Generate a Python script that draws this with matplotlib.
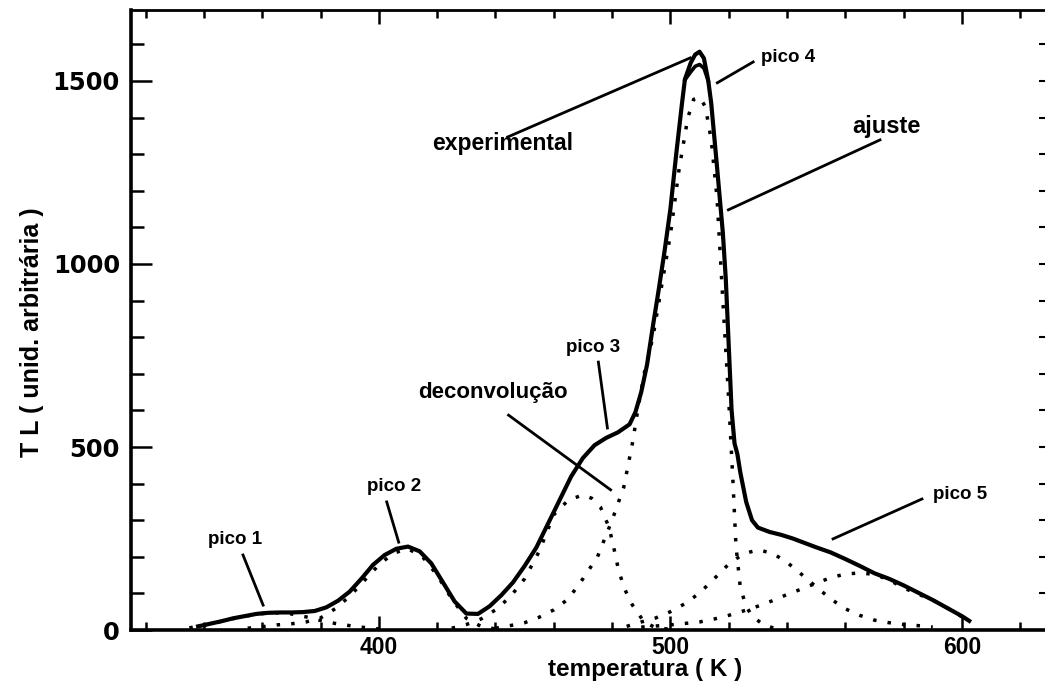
import matplotlib
matplotlib.use("Agg")
import matplotlib.pyplot as plt
from matplotlib.ticker import MultipleLocator

plt.rcParams['font.family'] = ['Liberation Sans', 'DejaVu Sans']
plt.rcParams['font.weight'] = 'bold'
plt.rcParams['axes.labelweight'] = 'bold'

# medida experimental de TL
exp_T = [338, 342, 346, 350, 354, 358, 362, 366, 370, 374, 378, 382, 386, 390,
         394, 398, 402, 406, 410, 414, 418, 422, 426, 430, 434, 438, 442, 446,
         450, 454, 458, 462, 466, 470, 474, 478, 482, 486, 488, 490, 492, 494,
         496, 498, 500, 502, 504, 505, 507, 508.5, 510, 511.5, 513, 514, 516,
         518, 519, 520, 521, 522, 523, 524, 526, 528, 530, 534, 538, 542, 546,
         550, 555, 560, 565, 570, 575, 580, 585, 590, 595, 600, 602.5]
exp_TL = [10, 17, 24, 32, 38, 44, 47, 48, 48, 49, 52, 62, 80, 105,
          140, 178, 205, 222, 228, 215, 182, 130, 78, 45, 44, 65, 95, 130,
          175, 225, 290, 355, 420, 470, 505, 525, 540, 562, 595, 650, 725, 830,
          930, 1035, 1150, 1300, 1440, 1505, 1550, 1572, 1580, 1562, 1500, 1440, 1265,
          1085, 960, 780, 600, 510, 480, 430, 350, 300, 280, 268, 260, 250, 238,
          226, 212, 194, 175, 155, 140, 122, 102, 82, 60, 38, 25]

# curva ajustada (separa-se da experimental apenas no topo do pico 4)
fit_T = [505, 507, 508.5, 510, 511.5, 513]
fit_TL = [1503, 1525, 1540, 1545, 1535, 1500]

# picos da deconvolução
p1_T = [335, 340, 345, 350, 355, 360, 365, 370, 375, 380, 385, 390, 395, 400]
p1_TL = [6, 13, 22, 31, 39, 45, 47, 44, 36, 26, 18, 12, 7, 3]

p2_T = [355, 360, 365, 370, 375, 380, 385, 390, 395, 400, 405, 410, 415, 420,
        425, 430, 435, 440]
p2_TL = [5, 9, 14, 17, 22, 33, 58, 92, 135, 178, 210, 222, 200, 150,
         85, 32, 10, 3]

p3_T = [425, 430, 435, 440, 445, 450, 455, 460, 465, 470, 473, 476, 479, 481,
        482, 484, 487, 491, 495, 500]
p3_TL = [5, 15, 30, 55, 90, 140, 215, 315, 355, 369, 360, 336, 280, 210,
         172, 117, 68, 22, 6, 2]

p4_T = [440, 445, 450, 455, 460, 465, 470, 475, 480, 484, 487, 489, 491, 494,
        497, 500, 503, 506, 508, 510, 512, 514, 516, 518, 520, 521.5, 522.5,
        524, 526, 528, 532, 536]
p4_TL = [5, 12, 20, 35, 55, 85, 140, 200, 300, 390, 511, 610, 700, 800,
         940, 1080, 1260, 1400, 1450, 1456, 1430, 1340, 1180, 900, 630, 400, 230,
         115, 65, 38, 14, 4]

p5_T = [485, 490, 495, 500, 505, 510, 515, 520, 525, 530, 535, 540, 545, 550,
        555, 560, 565, 570, 575, 580, 585, 590]
p5_TL = [10, 22, 33, 50, 72, 101, 140, 180, 208, 219, 210, 185, 152, 118,
         85, 58, 40, 27, 20, 15, 12, 8]

p6_T = [490, 495, 500, 505, 510, 515, 520, 525, 530, 535, 540, 545, 550, 555,
        560, 565, 570, 575, 580, 585, 590, 595, 600, 603]
p6_TL = [8, 11, 14, 18, 22, 30, 40, 52, 65, 80, 97, 112, 128, 143,
         153, 156, 152, 137, 115, 98, 82, 60, 36, 25]

fig = plt.figure(figsize=(10.45, 6.86), dpi=100)
ax = fig.add_axes([0.1254, 0.0816, 0.8746, 0.9044])

dots = dict(color='black', lw=2.5, linestyle=(0, (1, 3.2)), dash_capstyle='butt')
for T, TL in [(p1_T, p1_TL), (p2_T, p2_TL), (p3_T, p3_TL), (p4_T, p4_TL),
              (p5_T, p5_TL), (p6_T, p6_TL)]:
    ax.plot(T, TL, **dots)

ax.plot(exp_T, exp_TL, color='black', lw=3.0, solid_joinstyle='round')
ax.plot(fit_T, fit_TL, color='black', lw=2.6, solid_joinstyle='round')

ax.set_xlim(315, 628.5)
ax.set_ylim(0, 1695)

# eixos
ax.spines['right'].set_visible(False)
ax.spines['left'].set_linewidth(2.6)
ax.spines['bottom'].set_linewidth(2.6)
ax.spines['top'].set_linewidth(2.0)

ax.xaxis.set_major_locator(MultipleLocator(100))
ax.xaxis.set_minor_locator(MultipleLocator(20))
ax.yaxis.set_major_locator(MultipleLocator(500))
ax.yaxis.set_minor_locator(MultipleLocator(100))
ax.tick_params(axis='x', which='both', direction='in', top=True, width=1.8)
ax.tick_params(axis='x', which='major', length=10, pad=4, labelsize=16.5)
ax.tick_params(axis='x', which='minor', length=6)
ax.tick_params(axis='y', which='both', direction='in', width=1.8)
ax.tick_params(axis='y', which='major', length=15, pad=8, labelsize=17.5)
ax.tick_params(axis='y', which='minor', length=9)
for lab in ax.get_yticklabels():
    lab.set_family(['DejaVu Sans'])
    lab.set_fontweight('bold')
for lab in ax.get_xticklabels():
    lab.set_fontweight('bold')

sec = ax.secondary_yaxis('right')
sec.yaxis.set_major_locator(MultipleLocator(100))
sec.tick_params(direction='in', length=4, width=1.5, labelright=False)
sec.spines['right'].set_visible(False)

ax.set_xlabel('temperatura ( K )', fontsize=17.5, fontweight='bold')
ax.xaxis.set_label_coords(0.563, -0.045)
ax.set_ylabel('T L ( unid. arbitrária )', fontsize=18, fontweight='bold')
ax.yaxis.set_label_coords(-0.095, 0.48)

# rótulos com linhas de chamada
labels = [
    ('pico 1', 350.7, 246, 353.4, 205, 360.3, 68, 13.5),
    ('pico 2', 405.1, 391, 402.7, 350, 406.8, 240, 13.5),
    ('pico 3', 473.6, 773, 475.3, 732, 478.4, 552, 13.5),
    ('deconvolução', 439.0, 650, 444.5, 587, 479.5, 383, 16),
    ('experimental', 442.5, 1330, 444.2, 1347, 506.8, 1563, 16.5),
    ('pico 4', 540.4, 1563, 528.4, 1552, 516.1, 1495, 13.5),
    ('ajuste', 574.0, 1377, 571.9, 1339, 519.9, 1148, 17),
    ('pico 5', 599.3, 369, 586.3, 358, 555.8, 249, 13.5),
]
for txt, tx, ty, x0, y0, x1, y1, fs in labels:
    ax.text(tx, ty, txt, ha='center', va='center', fontsize=fs, fontweight='bold')
    ax.plot([x0, x1], [y0, y1], color='black', lw=2.0)

fig.savefig('out.png', dpi=100)
